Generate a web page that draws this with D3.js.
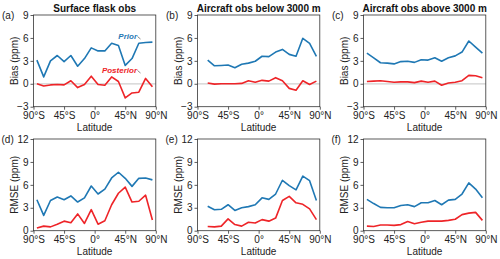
<!DOCTYPE html>
<html lang="en">
<head>
<meta charset="UTF-8">
<title>Bias and RMSE by latitude</title>
<script src="https://d3js.org/d3.v7.min.js"></script>
<style>
    body { margin: 0; background: #fff; }
    svg { display: block; font-family: "Liberation Sans", Arial, sans-serif; }
    .tick text { font-size: 10px; fill: #222; }
    .tick line, .domain { stroke: #333; }
</style>
</head>
<body>
<svg id="chart" width="500" height="259"></svg>
<script>
// latitude bin centres
const latAll = [-85, -75, -65, -55, -45, -35, -25, -15, -5, 5, 15, 25, 35, 45, 55, 65, 75, 85];
const latLow = [-75, -65, -55, -45, -35, -25, -15, -5, 5, 15, 25, 35, 45, 55, 65, 75, 85];

const xTicks = [-90, -45, 0, 45, 90];
const xTickLabels = ['90°S', '45°S', '0°', '45°N', '90°N'];
const biasTicks = [-3, 0, 3, 6, 9];
const rmseTicks = [0, 3, 6, 9, 12];

const titles = ['Surface flask obs', 'Aircraft obs below 3000 m', 'Aircraft obs above 3000 m'];

// bias (ppm)
const biasSurfPrior = [3.1, 0.9, 3.0, 3.7, 2.9, 3.7, 2.3, 3.3, 4.7, 4.3, 4.3, 5.3, 5.0, 2.4, 3.3, 5.3, 5.4, 5.45];
const biasSurfPost  = [0.0, -0.3, -0.15, -0.1, -0.15, 0.4, -0.5, -0.1, 1.0, -0.1, -0.2, 0.9, 0.3, -1.85, -1.2, -1.1, 0.7, -0.4];
const biasLowPrior  = [3.1, 2.35, 2.4, 2.45, 2.1, 2.55, 2.7, 2.95, 3.6, 3.55, 4.15, 4.5, 3.85, 3.6, 5.95, 5.3, 3.6];
const biasLowPost   = [0.1, -0.05, 0.0, 0.0, 0.0, 0.05, 0.4, 0.2, 0.45, 0.35, 0.8, 0.4, -0.6, -0.85, 0.4, -0.1, 0.35];
const biasHighPrior = [4.0, 3.4, 2.75, 2.7, 2.6, 2.9, 2.95, 2.8, 3.15, 3.1, 3.4, 2.95, 3.4, 3.65, 4.15, 5.6, 4.8, 4.0];
const biasHighPost  = [0.3, 0.35, 0.4, 0.3, 0.2, 0.25, 0.25, 0.15, 0.35, 0.2, 0.35, -0.2, 0.1, 0.2, 0.4, 1.1, 1.05, 0.8];

// RMSE (ppm)
const rmseSurfPrior = [4.05, 2.0, 3.95, 4.4, 4.05, 4.55, 3.75, 4.3, 5.85, 4.8, 5.45, 6.9, 7.65, 6.85, 5.8, 6.85, 6.9, 6.65];
const rmseSurfPost  = [0.35, 0.6, 0.5, 0.85, 1.25, 1.05, 2.2, 0.95, 2.75, 0.85, 1.3, 3.4, 4.9, 5.7, 3.75, 3.85, 4.65, 1.4];
const rmseLowPrior  = [3.2, 2.75, 2.8, 3.4, 2.65, 3.0, 3.15, 3.4, 4.3, 4.1, 4.8, 6.6, 5.9, 5.35, 7.15, 6.55, 3.95];
const rmseLowPost   = [0.55, 0.5, 0.6, 1.55, 0.8, 0.6, 1.1, 1.0, 1.45, 1.25, 1.65, 3.95, 4.5, 3.65, 3.45, 2.85, 1.45];
const rmseHighPrior = [4.1, 3.55, 3.05, 3.0, 3.0, 3.3, 3.4, 3.15, 3.65, 3.65, 3.95, 3.4, 4.0, 4.1, 4.8, 6.25, 5.45, 4.3];
const rmseHighPost  = [0.6, 0.55, 0.75, 0.75, 0.7, 0.8, 1.2, 0.9, 1.1, 1.25, 1.25, 1.25, 1.35, 1.5, 2.1, 2.3, 2.4, 1.35];

const priorColor = '#1f78b4';
const postColor = '#ee2428';

const svg = d3.select('#chart');

const colX = [33.5, 197.5, 363.5];
const rowY = [15, 139];
const pw = 122.3, ph = 91.7;

const panels = [
    {lab: '(a)', col: 0, row: 0, lat: latAll, prior: biasSurfPrior, post: biasSurfPost},
    {lab: '(b)', col: 1, row: 0, lat: latLow, prior: biasLowPrior, post: biasLowPost},
    {lab: '(c)', col: 2, row: 0, lat: latAll, prior: biasHighPrior, post: biasHighPost},
    {lab: '(d)', col: 0, row: 1, lat: latAll, prior: rmseSurfPrior, post: rmseSurfPost},
    {lab: '(e)', col: 1, row: 1, lat: latLow, prior: rmseLowPrior, post: rmseLowPost},
    {lab: '(f)', col: 2, row: 1, lat: latAll, prior: rmseHighPrior, post: rmseHighPost}
];

panels.forEach(p => {
    const isBias = p.row === 0;
    const ticks = isBias ? biasTicks : rmseTicks;
    const g = svg.append('g')
        .attr('transform', `translate(${colX[p.col]},${rowY[p.row]})`);

    const x = d3.scaleLinear().domain([-90, 90]).range([0, pw]);
    const y = d3.scaleLinear().domain([ticks[0], ticks[ticks.length - 1]]).range([ph, 0]);

    // zero reference line for bias panels
    if (isBias) {
        g.append('line')
            .attr('x1', 0).attr('x2', pw)
            .attr('y1', y(0)).attr('y2', y(0))
            .attr('stroke', '#cfcfcf').attr('stroke-width', 1.2);
    }

    const line = d3.line()
        .x((d, i) => x(p.lat[i]))
        .y(d => y(d));

    g.append('path').datum(p.prior)
        .attr('fill', 'none').attr('stroke', priorColor)
        .attr('stroke-width', 1.6).attr('stroke-linejoin', 'round')
        .attr('d', line);
    g.append('path').datum(p.post)
        .attr('fill', 'none').attr('stroke', postColor)
        .attr('stroke-width', 1.6).attr('stroke-linejoin', 'round')
        .attr('d', line);

    // frame
    g.append('rect')
        .attr('width', pw).attr('height', ph)
        .attr('fill', 'none').attr('stroke', '#333').attr('stroke-width', 0.8);

    g.append('g')
        .attr('transform', `translate(0,${ph})`)
        .call(d3.axisBottom(x).tickValues(xTicks).tickSize(3).tickPadding(2)
            .tickFormat((d, i) => xTickLabels[i]))
        .call(a => a.select('.domain').remove());

    g.append('g')
        .call(d3.axisLeft(y).tickValues(ticks).tickSize(3).tickPadding(2))
        .call(a => a.select('.domain').remove());

    g.selectAll('.tick line').attr('stroke-width', 0.8);

    // x axis title
    g.append('text')
        .attr('x', pw / 2).attr('y', ph + 24)
        .attr('text-anchor', 'middle')
        .attr('font-size', 10).attr('fill', '#222')
        .text('Latitude');

    // y axis title
    g.append('text')
        .attr('transform', `translate(${-16},${ph / 2}) rotate(-90)`)
        .attr('text-anchor', 'middle')
        .attr('font-size', 10).attr('fill', '#222')
        .text(isBias ? 'Bias (ppm)' : 'RMSE (ppm)');

    // panel letter
    g.append('text')
        .attr('x', isBias ? -31.5 : -32).attr('y', 3.5)
        .attr('font-size', 10).attr('fill', '#222')
        .text(p.lab);

    if (isBias) {
        g.append('text')
            .attr('x', pw / 2).attr('y', -3.5)
            .attr('text-anchor', 'middle')
            .attr('font-size', 10).attr('font-weight', 'bold').attr('fill', '#111')
            .text(titles[p.col]);
    }
});

// series labels in panel (a)
const la = svg.append('g').attr('transform', `translate(${colX[0]},${rowY[0]})`);
const labels = [
    {text: 'Prior', color: priorColor, x: 103.5, y: 24},
    {text: 'Posterior', color: postColor, x: 103.5, y: 58}
];
labels.forEach(l => {
    la.append('text')
        .attr('x', l.x).attr('y', l.y)
        .attr('text-anchor', 'end')
        .attr('font-size', 8).attr('font-style', 'italic').attr('font-weight', 'bold')
        .attr('fill', l.color)
        .text(l.text);
    la.append('line')
        .attr('x1', l.x + 0.5).attr('y1', l.y - 2.5)
        .attr('x2', l.x + 3.5).attr('y2', l.y)
        .attr('stroke', '#555').attr('stroke-width', 0.7);
});
</script>
</body>
</html>
